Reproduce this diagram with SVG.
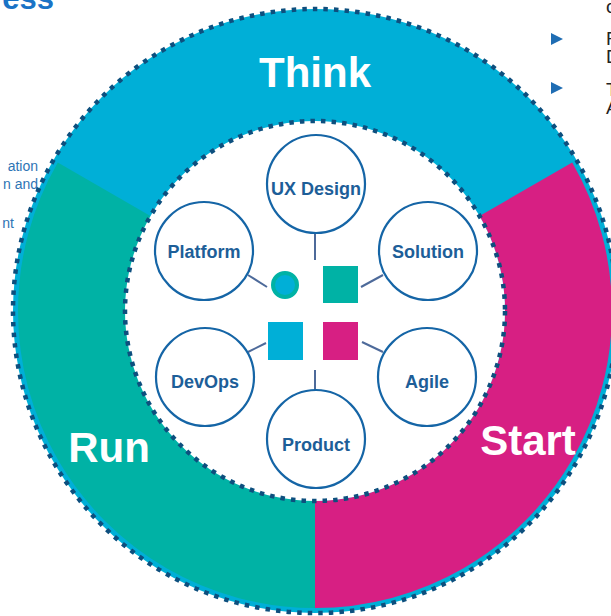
<svg xmlns="http://www.w3.org/2000/svg" width="611" height="616" viewBox="0 0 611 616">
<style>
.node circle{fill:#fff;stroke:#1565a6;stroke-width:2.2}
.node text{font-family:"Liberation Sans",Arial,sans-serif;font-weight:bold;font-size:18px;fill:#1d5e98;text-anchor:middle}
.phase{font-family:"Liberation Sans",Arial,sans-serif;font-weight:bold;font-size:42px;fill:#fff;text-anchor:middle}
.dots{fill:none;stroke:#0d4f7e;stroke-width:4.5;stroke-dasharray:4.5 6.1}
.conn line{stroke:#4d6a9a;stroke-width:2}
.side{font-family:"Liberation Sans",Arial,sans-serif;font-size:14px;fill:#2e74b5;text-anchor:end}
.right{font-family:"Liberation Sans",Arial,sans-serif;font-size:19px;fill:#222}
</style>
<rect width="611" height="616" fill="#fff"/>
<text x="54" y="9" font-family="'Liberation Sans',Arial,sans-serif" font-weight="bold" font-size="31" fill="#1a73c6" text-anchor="end">ess</text>
<text class="side" x="38" y="171">ation</text>
<text class="side" x="38" y="189">n and</text>
<text class="side" x="14" y="228">nt</text>
<text class="right" x="606" y="13">c</text>
<polygon points="551,33 563,39 551,45" fill="#1f6db3"/>
<text class="right" x="606" y="45">F</text>
<text class="right" x="606" y="63">D</text>
<polygon points="551,82 563,88 551,94" fill="#1f6db3"/>
<text class="right" x="606" y="96">T</text>
<text class="right" x="606" y="114">A</text>
<g id="ring">
<circle cx="315" cy="311" r="302" fill="#00afd7"/>
<path id="run-seg" d="M315 608 A297 297 0 0 1 57.79 162.5 L150.46 216 A190 190 0 0 0 315 501 Z" fill="#00b2a5"/>
<path id="start-seg" d="M572.21 162.5 A297 297 0 0 1 315 608 L315 501 A190 190 0 0 0 479.54 216 Z" fill="#d71f83"/>
<circle cx="315" cy="311" r="190" fill="#fff"/>
<circle class="dots" cx="315" cy="311" r="302"/>
<circle class="dots" cx="315" cy="311" r="190"/>
<text class="phase" x="315" y="87">Think</text>
<text class="phase" x="109" y="462">Run</text>
<text class="phase" x="528" y="455">Start</text>
</g>
<g id="connectors" class="conn">
<line x1="315" y1="234" x2="315" y2="260"/>
<line x1="248" y1="275" x2="267" y2="287"/>
<line x1="361" y1="287" x2="383" y2="275"/>
<line x1="248" y1="352" x2="266" y2="343"/>
<line x1="362" y1="342" x2="383" y2="352"/>
<line x1="315" y1="370" x2="315" y2="390"/>
</g>
<g id="icons">
<circle cx="285" cy="285" r="12" fill="#00afd7" stroke="#00b2a5" stroke-width="4"/>
<rect x="323" y="266" width="35" height="37" fill="#00b2a5"/>
<rect x="268" y="322" width="35" height="38" fill="#00afd7"/>
<rect x="323" y="322" width="35" height="38" fill="#d71f83"/>
</g>
<g id="ux-design" class="node"><circle cx="316" cy="184" r="49"/><text x="316" y="195">UX Design</text></g>
<g id="platform" class="node"><circle cx="204" cy="251" r="49"/><text x="204" y="258">Platform</text></g>
<g id="solution" class="node"><circle cx="428" cy="251" r="49"/><text x="428" y="258">Solution</text></g>
<g id="devops" class="node"><circle cx="205" cy="377" r="49"/><text x="205" y="388">DevOps</text></g>
<g id="agile" class="node"><circle cx="427" cy="377" r="49"/><text x="427" y="388">Agile</text></g>
<g id="product" class="node"><circle cx="316" cy="439" r="49"/><text x="316" y="451">Product</text></g>
</svg>
